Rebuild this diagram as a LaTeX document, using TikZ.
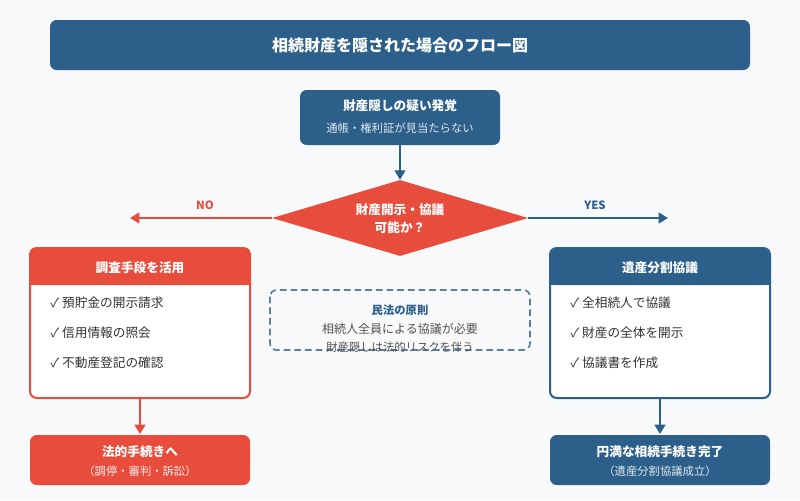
\documentclass[tikz,border=0pt]{standalone}
\usepackage{fontspec}
\setmainfont{Noto Sans CJK JP}
\usetikzlibrary{shapes.geometric,arrows.meta}
\definecolor{bg}{HTML}{F8F9FA}
\definecolor{blu}{HTML}{2C5F8A}
\definecolor{rd}{HTML}{E74C3C}
\definecolor{txt}{HTML}{333333}
\definecolor{dsh}{HTML}{5A7FA0}
\begin{document}
\begin{tikzpicture}[x=0.75pt,y=-0.75pt,
 box/.style={rounded corners=5pt},
 wt/.style={text=white,font=\bfseries\fontsize{9.5}{11}\selectfont},
 ws/.style={text=white!85!blu,font=\fontsize{8.5}{10}\selectfont},
 it/.style={text=txt,anchor=west,font=\fontsize{9.5}{11}\selectfont},
 arr/.style={line width=1.6pt,-{Triangle[length=7pt,width=8pt]}}]
\fill[bg] (0,0) rectangle (800,500);
\useasboundingbox (0,0) rectangle (800,500);
% title
\fill[blu,box] (50,20) rectangle (750,70);
\node[text=white,font=\bfseries\fontsize{12}{14}\selectfont] (title) at (400,45) {相続財産を隠された場合のフロー図};
% top
\fill[blu,box] (300,90) rectangle (500,145);
\coordinate (topb) at (400,145);
\node[wt] (t1) at (400,106) {財産隠しの疑い発覚};
\node[ws] (t2) at (400,128) {通帳・権利証が見当たらない};
% diamond
\node[diamond,fill=rd,minimum width=256*0.75pt,minimum height=76*0.75pt,inner sep=0,aspect=3.37] (d) at (400,218) {};
\node[wt] at (400,210) {財産開示・協議};
\node[wt] at (400,228) {可能か？};
\draw[arr,blu] (topb) -- (d.north);
\coordinate (noend) at (130,218);
\coordinate (yesend) at (668,218);
\draw[arr,rd] (d.west) -- (noend);
\draw[arr,blu] (d.east) -- (yesend);
\node[text=rd,font=\bfseries\fontsize{8.5}{10}\selectfont] at (205,205) {NO};
\node[text=blu,font=\bfseries\fontsize{8.5}{10}\selectfont] at (595,205) {YES};
% left box
\draw[rd,fill=white,line width=1.5pt,box] (30,248) rectangle (250,398);
\fill[rd,rounded corners=5pt] (30,248) rectangle (250,285);
\fill[rd] (30,270) rectangle (250,285);
\node[wt] (lh) at (140,268) {調査手段を活用};
\node[it] at (46,303) {✓ 預貯金の開示請求};
\node[it] at (46,333) {✓ 信用情報の照会};
\node[it] at (46,363) {✓ 不動産登記の確認};
\coordinate (lb) at (140,398);
\fill[rd,box] (30,435) rectangle (250,485);
\coordinate (lbt) at (140,434);
\draw[arr,rd] (lb) -- (lbt);
\node[wt] at (140,452) {法的手続きへ};
\node[ws,text=white!88!rd] at (140,471) {（調停・審判・訴訟）};
% right box
\draw[blu,fill=white,line width=1.5pt,box] (550,248) rectangle (770,398);
\fill[blu,rounded corners=5pt] (550,248) rectangle (770,285);
\fill[blu] (550,270) rectangle (770,285);
\node[wt] (rh) at (660,268) {遺産分割協議};
\node[it] at (566,303) {✓ 全相続人で協議};
\node[it] at (566,333) {✓ 財産の全体を開示};
\node[it] at (566,363) {✓ 協議書を作成};
\coordinate (rb) at (660,398);
\fill[blu,box] (550,435) rectangle (770,485);
\coordinate (rbt) at (660,434);
\draw[arr,blu] (rb) -- (rbt);
\node[wt] at (660,452) {円満な相続手続き完了};
\node[ws] at (660,471) {（遺産分割協議成立）};
% note
\draw[dsh,line width=1.3pt,dash pattern=on 5pt off 3pt,box] (270,290) rectangle (530,350);
\node[text=blu,font=\bfseries\fontsize{8.5}{10}\selectfont] at (400,310) {民法の原則};
\node[text=txt!85,font=\fontsize{9}{10}\selectfont] at (400,329) {相続人全員による協議が必要};
\node[text=txt!85,font=\fontsize{8.5}{10}\selectfont] at (400,347) {財産隠しは法的リスクを伴う};
\end{tikzpicture}
\end{document}
